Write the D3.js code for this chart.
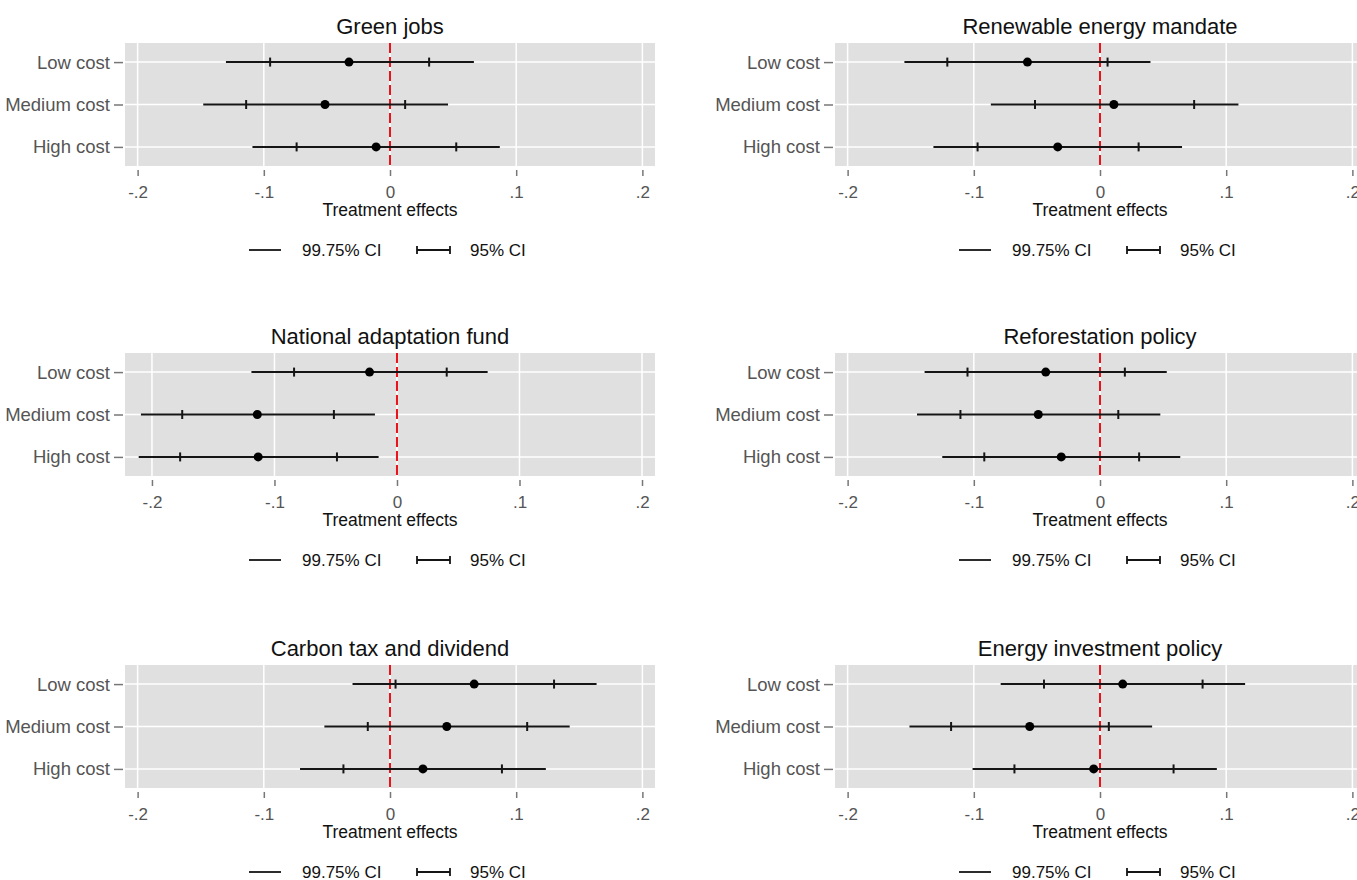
<!DOCTYPE html>
<html>
<head>
<meta charset="utf-8">
<script src="https://cdn.jsdelivr.net/npm/d3@7"></script>
<style>
  body { margin: 0; background: #fff; }
  svg { display: block; font-family: "Liberation Sans", Arial, sans-serif; }
</style>
</head>
<body>
<svg id="chart"></svg>
<script>
// Panel titles and the three cost levels
const panelTitles = ["Green jobs", "Renewable energy mandate", "National adaptation fund",
                     "Reforestation policy", "Carbon tax and dividend", "Energy investment policy"];
const categories = ["Low cost", "Medium cost", "High cost"];

// Point estimates (one row per panel, Low / Medium / High)
const estimate = [
  [-0.0325, -0.0515, -0.011],
  [-0.0575, 0.011, -0.0335],
  [-0.0224, -0.114, -0.1133],
  [-0.043, -0.0489, -0.0307],
  [0.0667, 0.045, 0.0261],
  [0.018, -0.0557, -0.005]
];
// 95% CI bounds
const lo95 = [
  [-0.095, -0.114, -0.074],
  [-0.121, -0.0515, -0.097],
  [-0.084, -0.1753, -0.177],
  [-0.105, -0.1106, -0.0917],
  [0.0044, -0.0176, -0.0369],
  [-0.0444, -0.118, -0.0678]
];
const hi95 = [
  [0.031, 0.012, 0.0525],
  [0.006, 0.0746, 0.0306],
  [0.0406, -0.0515, -0.049],
  [0.0197, 0.0145, 0.031],
  [0.130, 0.1087, 0.0887],
  [0.0813, 0.007, 0.0583]
];
// 99.75% CI bounds
const lo9975 = [
  [-0.130, -0.148, -0.109],
  [-0.155, -0.0865, -0.132],
  [-0.1188, -0.209, -0.2108],
  [-0.139, -0.145, -0.125],
  [-0.0297, -0.052, -0.0713],
  [-0.0787, -0.151, -0.101]
];
const hi9975 = [
  [0.0665, 0.046, 0.087],
  [0.040, 0.1097, 0.065],
  [0.074, -0.018, -0.015],
  [0.0529, 0.0478, 0.0636],
  [0.1637, 0.1424, 0.1235],
  [0.115, 0.0413, 0.0926]
];
// x ranges of each panel
const xDomains = [
  [-0.21, 0.21], [-0.21, 0.21], [-0.222, 0.2106],
  [-0.21, 0.21], [-0.21, 0.21], [-0.21, 0.21]
];
const xTickValues = [-0.2, -0.1, 0, 0.1, 0.2];
const xTickLabels = ["-.2", "-.1", "0", ".1", ".2"];
const legendLabels = ["99.75% CI", "95% CI"];

// Layout
const width = 1357, height = 880;
const colLeft = [125, 835];
const rowTop = [43, 353, 665];
const plotW = 530, plotH = 123;
const bg = "#e0e0e0", grey = "#555";

const svg = d3.select("#chart")
    .attr("width", width)
    .attr("height", height)
    .attr("viewBox", [0, 0, width, height]);

panelTitles.forEach((title, i) => {
  const left = colLeft[i % 2];
  const top = rowTop[Math.floor(i / 2)];
  const bottom = top + plotH;
  const cx = left + plotW / 2;

  const x = d3.scaleLinear().domain(xDomains[i]).range([left, left + plotW]);
  const y = d3.scaleLinear().domain([0.55, 3.45]).range([top, bottom]);

  const g = svg.append("g");

  // Title
  g.append("text")
      .attr("x", cx)
      .attr("y", top - 17)
      .attr("dy", "0.35em")
      .attr("text-anchor", "middle")
      .attr("font-size", 22)
      .attr("fill", "#111")
      .text(title);

  // Plot background
  g.append("rect")
      .attr("x", left).attr("y", top)
      .attr("width", plotW).attr("height", plotH)
      .attr("fill", bg);

  // Grid lines
  g.append("g").selectAll("line")
    .data(xTickValues)
    .join("line")
      .attr("x1", d => x(d)).attr("x2", d => x(d))
      .attr("y1", top).attr("y2", bottom)
      .attr("stroke", "#fff").attr("stroke-width", 1.5);
  g.append("g").selectAll("line")
    .data([1, 2, 3])
    .join("line")
      .attr("x1", left).attr("x2", left + plotW)
      .attr("y1", d => y(d)).attr("y2", d => y(d))
      .attr("stroke", "#fff").attr("stroke-width", 1.5);

  // Red reference line at zero
  g.append("line")
      .attr("x1", x(0)).attr("x2", x(0))
      .attr("y1", top).attr("y2", bottom)
      .attr("stroke", "#e8141a").attr("stroke-width", 2)
      .attr("stroke-dasharray", "10,4");

  // x axis
  const xAxis = g.append("g")
      .attr("transform", `translate(0,${bottom + 4})`)
      .call(d3.axisBottom(x).tickValues(xTickValues)
        .tickFormat((d, k) => xTickLabels[k]).tickSize(6).tickSizeOuter(0));
  xAxis.select(".domain").remove();
  xAxis.selectAll("line").attr("stroke", "#777").attr("stroke-width", 1.5);
  xAxis.selectAll("text")
      .attr("y", 22).attr("dy", "0.35em")
      .attr("font-size", 17).attr("fill", grey)
      .attr("font-family", "Liberation Sans, Arial, sans-serif");

  g.append("text")
      .attr("x", cx)
      .attr("y", bottom + 44)
      .attr("dy", "0.35em")
      .attr("text-anchor", "middle")
      .attr("font-size", 17.5)
      .attr("fill", "#111")
      .text("Treatment effects");

  // y axis
  const yAxis = g.append("g")
      .attr("transform", `translate(${left - 2},0)`)
      .call(d3.axisLeft(y).tickValues([1, 2, 3])
        .tickFormat(d => categories[d - 1]).tickSize(9).tickPadding(4).tickSizeOuter(0));
  yAxis.select(".domain").remove();
  yAxis.selectAll("line").attr("stroke", "#777").attr("stroke-width", 1.5);
  yAxis.selectAll("text")
      .attr("font-size", 18.5).attr("fill", grey)
      .attr("font-family", "Liberation Sans, Arial, sans-serif");

  // Confidence intervals and estimates
  const rows = categories.map((c, k) => ({
    k: k + 1, est: estimate[i][k],
    l95: lo95[i][k], h95: hi95[i][k],
    l99: lo9975[i][k], h99: hi9975[i][k]
  }));

  g.append("g").selectAll("line")
    .data(rows)
    .join("line")
      .attr("x1", d => x(d.l99)).attr("x2", d => x(d.h99))
      .attr("y1", d => y(d.k)).attr("y2", d => y(d.k))
      .attr("stroke", "#151515").attr("stroke-width", 2);

  g.append("g").selectAll("line")
    .data(rows.flatMap(d => [{k: d.k, v: d.l95}, {k: d.k, v: d.h95}]))
    .join("line")
      .attr("x1", d => x(d.v)).attr("x2", d => x(d.v))
      .attr("y1", d => y(d.k) - 4.5).attr("y2", d => y(d.k) + 4.5)
      .attr("stroke", "#151515").attr("stroke-width", 2);

  g.append("g").selectAll("circle")
    .data(rows)
    .join("circle")
      .attr("cx", d => x(d.est)).attr("cy", d => y(d.k))
      .attr("r", 4.5)
      .attr("fill", "#000");

  // Legend
  const ly = bottom + 84;
  const leg = g.append("g").attr("stroke", "#151515").attr("stroke-width", 1.8);
  leg.append("line")
      .attr("x1", cx - 141).attr("x2", cx - 109)
      .attr("y1", ly).attr("y2", ly);
  leg.append("line")
      .attr("x1", cx + 27).attr("x2", cx + 60)
      .attr("y1", ly).attr("y2", ly);
  leg.selectAll(".cap")
    .data([cx + 27, cx + 60])
    .join("line")
      .attr("class", "cap")
      .attr("x1", d => d).attr("x2", d => d)
      .attr("y1", ly - 4).attr("y2", ly + 4);

  g.append("g").selectAll("text")
    .data(legendLabels)
    .join("text")
      .attr("x", (d, k) => k === 0 ? cx - 88 : cx + 80)
      .attr("y", ly)
      .attr("dy", "0.35em")
      .attr("font-size", 17)
      .attr("fill", "#111")
      .text(d => d);
});
</script>
</body>
</html>
